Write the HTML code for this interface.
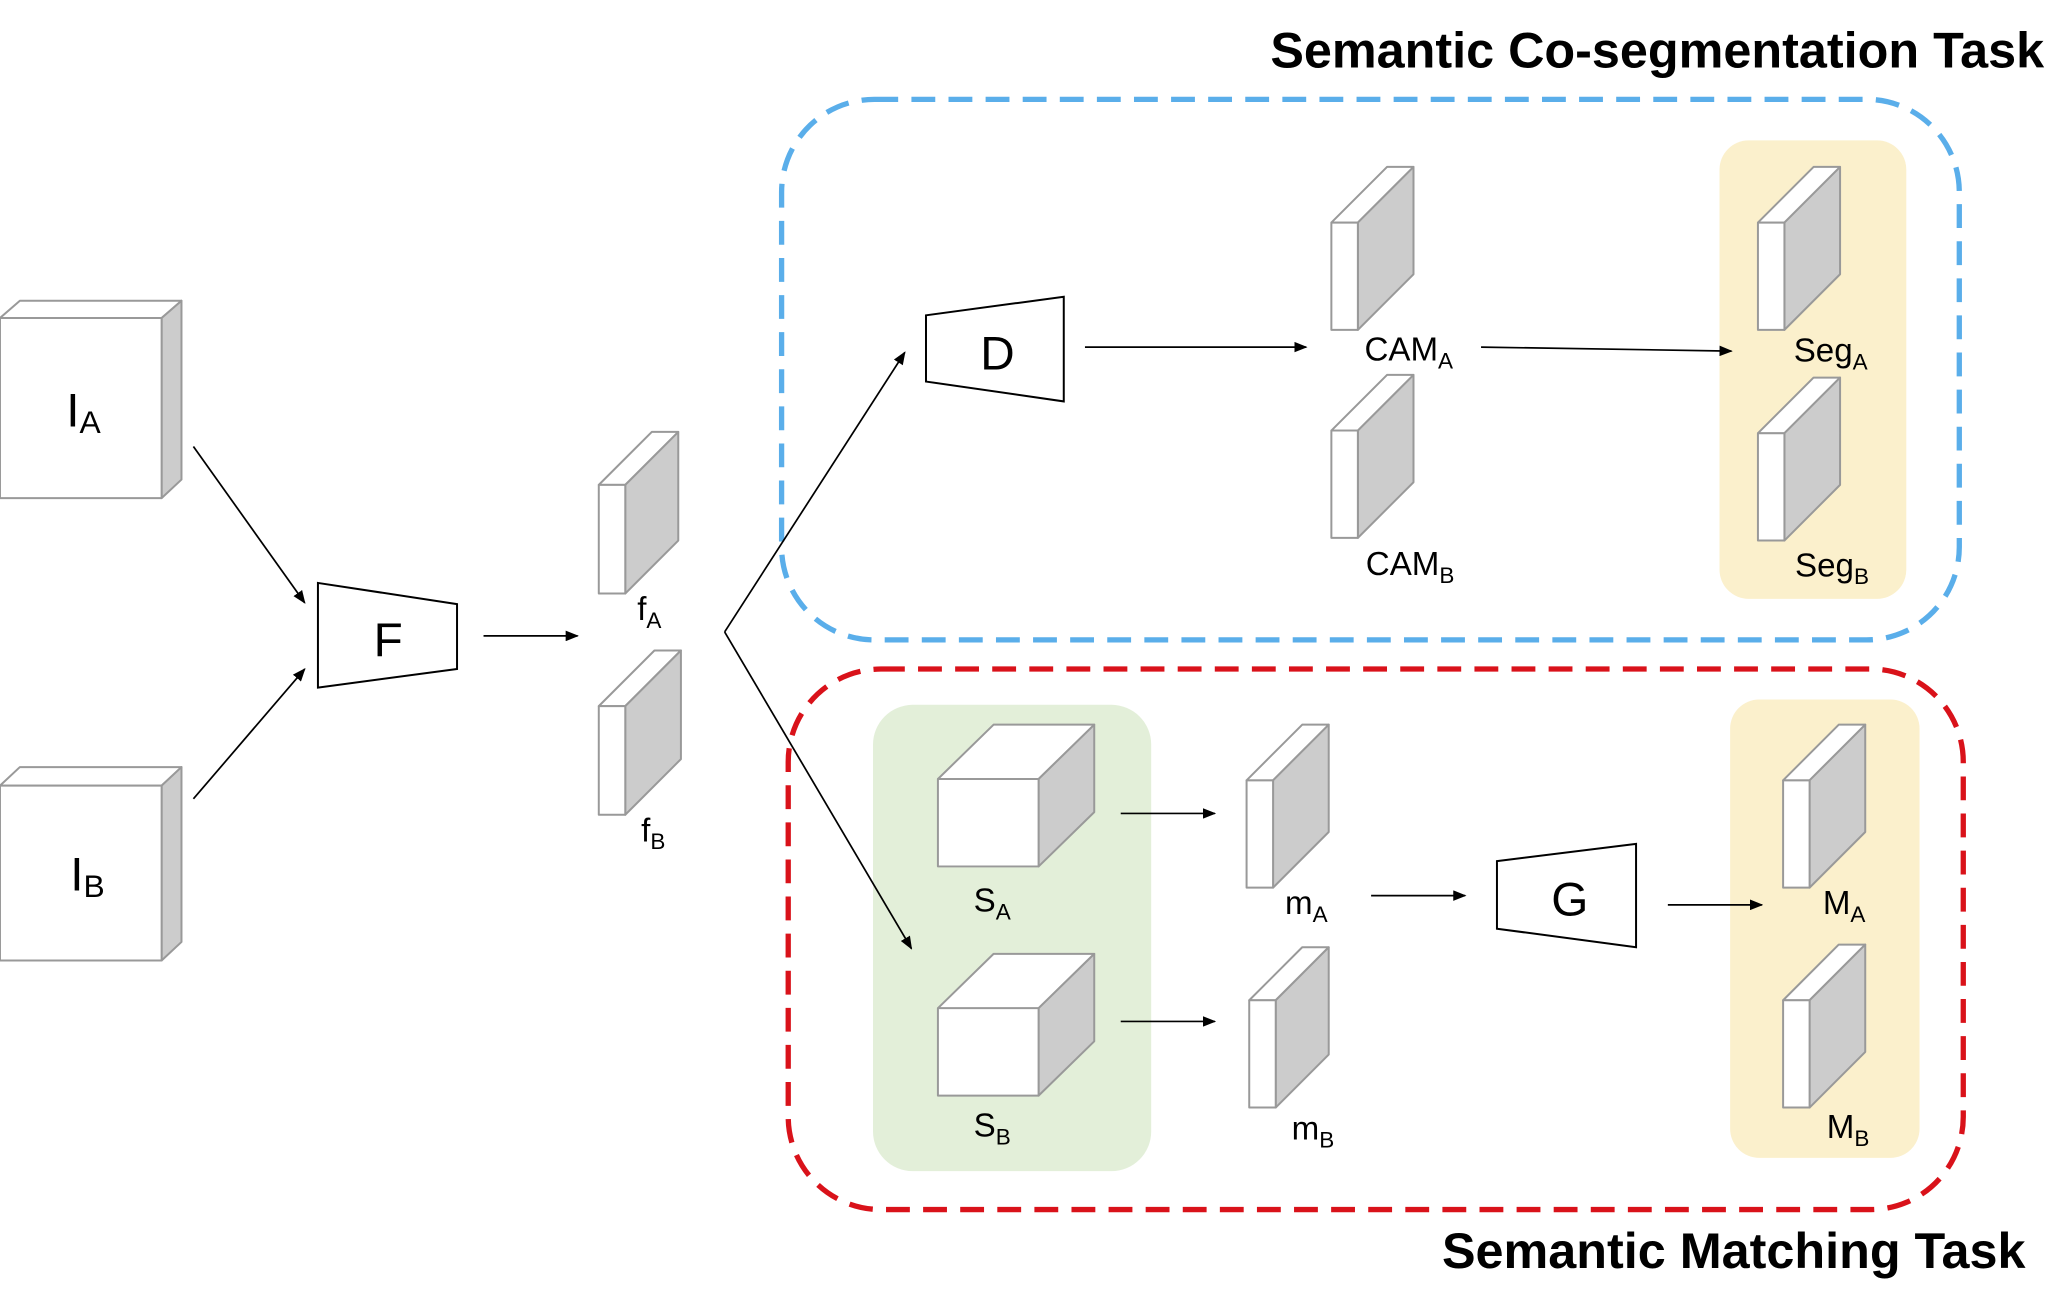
<!DOCTYPE html>
<html><head><meta charset="utf-8"><style>
html,body{margin:0;padding:0;background:#fff}
svg{display:block}
text{font-family:"Liberation Sans",Arial,sans-serif;fill:#000}
</style></head><body>
<svg width="2056" height="1297" viewBox="0 0 1552 979" preserveAspectRatio="none" xmlns="http://www.w3.org/2000/svg">
<defs>
<marker id="ah" markerWidth="10" markerHeight="8" refX="9" refY="4" orient="auto" markerUnits="userSpaceOnUse">
<path d="M0,0 L10,4 L0,8 z" fill="#000"/></marker>
</defs>
<rect x="1298" y="106" width="141" height="346" rx="22" fill="#fbf0cc"/>
<rect x="1306" y="528" width="143" height="346" rx="22" fill="#fbf0cc"/>
<rect x="659" y="532" width="210" height="352" rx="30" fill="#e3efd9"/>
<rect x="590" y="75" width="889" height="408" rx="70" fill="none" stroke="#5aaeea" stroke-width="4" stroke-dasharray="18,10"/>
<rect x="595" y="505" width="887" height="408" rx="70" fill="none" stroke="#d9121a" stroke-width="4" stroke-dasharray="18,10"/>
<g stroke="#999" stroke-width="1.5" stroke-linejoin="round">
<polygon points="0,240 15,227 137,227 122,240" fill="#fff"/>
<polygon points="122,240 137,227 137,362 122,376" fill="#ccc"/>
<rect x="0" y="240" width="122" height="136" fill="#fff"/>
<polygon points="0,593 15,579 137,579 122,593" fill="#fff"/>
<polygon points="122,593 137,579 137,711 122,725" fill="#ccc"/>
<rect x="0" y="593" width="122" height="132" fill="#fff"/>
</g>
<g stroke="#999" stroke-width="1.5" stroke-linejoin="round">
<g><polygon points="452,366 492,326 512,326 472,366" fill="#fff"/><polygon points="472,366 512,326 512,408 472,448" fill="#ccc"/><rect x="452" y="366" width="20" height="82" fill="#fff"/></g>
<g><polygon points="452,533 494,491 514,491 472,533" fill="#fff"/><polygon points="472,533 514,491 514,573 472,615" fill="#ccc"/><rect x="452" y="533" width="20" height="82" fill="#fff"/></g>
<g><polygon points="1005,168 1047,126 1067,126 1025,168" fill="#fff"/><polygon points="1025,168 1067,126 1067,207 1025,249" fill="#ccc"/><rect x="1005" y="168" width="20" height="81" fill="#fff"/></g>
<g><polygon points="1005,325 1047,283 1067,283 1025,325" fill="#fff"/><polygon points="1025,325 1067,283 1067,364 1025,406" fill="#ccc"/><rect x="1005" y="325" width="20" height="81" fill="#fff"/></g>
<g><polygon points="1327,168 1369,126 1389,126 1347,168" fill="#fff"/><polygon points="1347,168 1389,126 1389,207 1347,249" fill="#ccc"/><rect x="1327" y="168" width="20" height="81" fill="#fff"/></g>
<g><polygon points="1327,327 1369,285 1389,285 1347,327" fill="#fff"/><polygon points="1347,327 1389,285 1389,366 1347,408" fill="#ccc"/><rect x="1327" y="327" width="20" height="81" fill="#fff"/></g>
<g><polygon points="941,589 983,547 1003,547 961,589" fill="#fff"/><polygon points="961,589 1003,547 1003,628 961,670" fill="#ccc"/><rect x="941" y="589" width="20" height="81" fill="#fff"/></g>
<g><polygon points="943,755 983,715 1003,715 963,755" fill="#fff"/><polygon points="963,755 1003,715 1003,796 963,836" fill="#ccc"/><rect x="943" y="755" width="20" height="81" fill="#fff"/></g>
<g><polygon points="1346,589 1388,547 1408,547 1366,589" fill="#fff"/><polygon points="1366,589 1408,547 1408,628 1366,670" fill="#ccc"/><rect x="1346" y="589" width="20" height="81" fill="#fff"/></g>
<g><polygon points="1346,755 1388,713 1408,713 1366,755" fill="#fff"/><polygon points="1366,755 1408,713 1408,794 1366,836" fill="#ccc"/><rect x="1346" y="755" width="20" height="81" fill="#fff"/></g>
<g><polygon points="708,588 750,547 826,547 784,588" fill="#fff"/><polygon points="784,588 826,547 826,613 784,654" fill="#ccc"/><rect x="708" y="588" width="76" height="66" fill="#fff"/></g>
<g><polygon points="708,761 750,720 826,720 784,761" fill="#fff"/><polygon points="784,761 826,720 826,786 784,827" fill="#ccc"/><rect x="708" y="761" width="76" height="66" fill="#fff"/></g>
</g>
<g fill="#fff" stroke="#000" stroke-width="1.5">
<polygon points="240,440 345,456 345,505 240,519"/>
<polygon points="699,238 803,224 803,303 699,288"/>
<polygon points="1130,650 1235,637 1235,715 1130,701"/>
</g>
<g stroke="#000" stroke-width="1.3" marker-end="url(#ah)">
<line x1="146" y1="337" x2="230" y2="455"/>
<line x1="146" y1="603" x2="230" y2="505"/>
<line x1="365" y1="480" x2="436" y2="480"/>
<line x1="547" y1="477" x2="683" y2="266"/>
<line x1="547" y1="477" x2="688" y2="716"/>
<line x1="819" y1="262" x2="986" y2="262"/>
<line x1="1118" y1="262" x2="1307" y2="265"/>
<line x1="846" y1="614" x2="917" y2="614"/>
<line x1="846" y1="771" x2="917" y2="771"/>
<line x1="1035" y1="676" x2="1106" y2="676"/>
<line x1="1259" y1="683" x2="1330" y2="683"/>
</g>
<text x="50" y="322" font-size="36">I<tspan font-size="24" dy="5">A</tspan></text>
<text x="53" y="672" font-size="36">I<tspan font-size="24" dy="5">B</tspan></text>
<text x="282" y="495" font-size="36">F</text>
<text x="740" y="279" font-size="36">D</text>
<text x="1171" y="691" font-size="36">G</text>
<g font-size="25">
<text x="481" y="468">f<tspan font-size="17" dy="6">A</tspan></text>
<text x="484" y="635">f<tspan font-size="17" dy="6">B</tspan></text>
<text x="1030" y="272">CAM<tspan font-size="17" dy="6">A</tspan></text>
<text x="1031" y="434">CAM<tspan font-size="17" dy="6">B</tspan></text>
<text x="1354" y="273">Seg<tspan font-size="17" dy="6">A</tspan></text>
<text x="1355" y="435">Seg<tspan font-size="17" dy="6">B</tspan></text>
<text x="735" y="688">S<tspan font-size="17" dy="6">A</tspan></text>
<text x="735" y="858">S<tspan font-size="17" dy="6">B</tspan></text>
<text x="970" y="690">m<tspan font-size="17" dy="6">A</tspan></text>
<text x="975" y="860">m<tspan font-size="17" dy="6">B</tspan></text>
<text x="1376" y="690">M<tspan font-size="17" dy="6">A</tspan></text>
<text x="1379" y="859">M<tspan font-size="17" dy="6">B</tspan></text>
</g>
<text x="1543" y="51" font-size="38" font-weight="bold" text-anchor="end">Semantic Co-segmentation Task</text>
<text x="1529" y="957" font-size="38" font-weight="bold" text-anchor="end">Semantic Matching Task</text>
</svg>
</body></html>
